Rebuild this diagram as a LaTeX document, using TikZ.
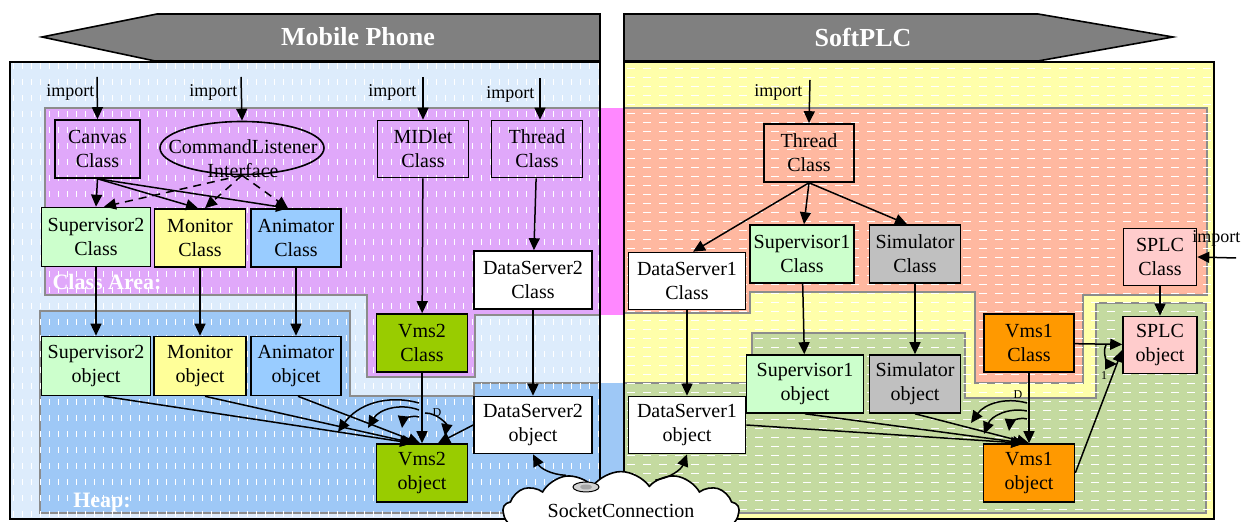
\documentclass[tikz,border=0pt]{standalone}
\usepackage{fontspec}
\setmainfont{Liberation Serif}
\usetikzlibrary{arrows.meta,shapes.geometric,shapes.symbols,patterns}

\definecolor{phoneback}{RGB}{221,236,252}
\definecolor{phoneclass}{RGB}{224,168,250}
\definecolor{phoneheap}{RGB}{158,200,246}
\definecolor{plcback}{RGB}{255,255,170}
\definecolor{plcclass}{RGB}{255,184,160}
\definecolor{plcheap}{RGB}{196,218,160}
\definecolor{gapclass}{RGB}{255,136,255}
\definecolor{bannergray}{RGB}{128,128,128}
\definecolor{supgreen}{RGB}{204,255,204}
\definecolor{monyellow}{RGB}{255,255,153}
\definecolor{animblue}{RGB}{153,204,255}
\definecolor{vmsgreen}{RGB}{153,204,0}
\definecolor{vmsorange}{RGB}{255,153,0}
\definecolor{simgray}{RGB}{192,192,192}
\definecolor{splcpink}{RGB}{255,204,204}

\pgfdeclarepatternformonly{vdashes}{\pgfqpoint{-1pt}{-1pt}}{\pgfqpoint{5.5pt}{9pt}}{\pgfqpoint{4.5pt}{8pt}}{%
  \pgfsetlinewidth{0.4pt}%
  \pgfpathmoveto{\pgfqpoint{2pt}{2.5pt}}%
  \pgfpathlineto{\pgfqpoint{2pt}{5.5pt}}%
  \pgfusepath{stroke}}
\pgfdeclarepatternformonly{hdashes}{\pgfqpoint{-1pt}{-1pt}}{\pgfqpoint{9pt}{5.5pt}}{\pgfqpoint{8pt}{4.5pt}}{%
  \pgfsetlinewidth{0.4pt}%
  \pgfpathmoveto{\pgfqpoint{1.5pt}{2pt}}%
  \pgfpathlineto{\pgfqpoint{5.5pt}{2pt}}%
  \pgfusepath{stroke}}

\begin{document}
\begin{tikzpicture}[x=0.5pt, y=-0.5pt, line width=0.75pt,
    >={Triangle[length=6pt,width=5.5pt]},
    box/.style={draw, line width=0.8pt, inner sep=0pt, align=center, font=\fontsize{10}{12}\selectfont},
    sz/.style 2 args={minimum width=#1*0.5pt, minimum height=#2*0.5pt},
    imp/.style={font=\fontsize{9}{10}\selectfont, inner sep=0pt},
    area/.style={draw=black!45, line width=0.6pt},
    banner/.style={fill=bannergray, draw=black, line width=0.8pt},
    title/.style={text=white, font=\fontsize{13}{15}\selectfont\bfseries},
    arealabel/.style={text=white, font=\fontsize{11}{13}\selectfont\bfseries},
    tag/.style={font=\fontsize{6}{6}\selectfont, inner sep=0pt},
    uses/.style={->, dash pattern=on 4pt off 3pt}]
    \useasboundingbox (0,0) rectangle (1242,522);

    % panels and memory areas
    \fill[phoneback] (10,62) rectangle (600,519);
    \fill[plcback] (624,62) rectangle (1214,519);
    \fill[gapclass] (600,108) rectangle (624,315);
    \fill[phoneheap] (600,383) rectangle (624,519);
    \filldraw[area, fill=phoneclass] (45,108) -- (600,108) -- (600,315) -- (475,315) -- (475,377) -- (367,377) -- (367,295) -- (45,295) -- cycle;
    \filldraw[area, fill=phoneheap] (40,311) -- (350,311) -- (350,396) -- (474,396) -- (474,383) -- (600,383) -- (600,513) -- (40,513) -- cycle;
    \filldraw[area, fill=plcclass] (624,108) -- (1207,108) -- (1207,295) -- (1083,295) -- (1083,383) -- (975,383) -- (975,292) -- (750,292) -- (750,313) -- (624,313) -- cycle;
    \filldraw[area, fill=plcheap] (624,383) -- (752,383) -- (752,333) -- (965,333) -- (965,398) -- (1096,398) -- (1096,303) -- (1206,303) -- (1206,513) -- (624,513) -- cycle;
    \fill[pattern=vdashes, pattern color=white, fill opacity=0.45] (10,62) rectangle (600,519);
    \fill[pattern=hdashes, pattern color=white, fill opacity=0.45] (624,62) rectangle (1214,519);
    \draw[line width=1pt] (10,62) rectangle (600,519);
    \draw[line width=1pt] (624,62) rectangle (1214,519);

    \filldraw[banner] (42,37) -- (157,14) -- (600,14) -- (600,61) -- (155,61) -- cycle;
    \node (phone) [title] at (358,37) {Mobile Phone};
    \filldraw[banner] (624,14) -- (1038,14) -- (1173,37) -- (1038,61) -- (624,61) -- cycle;
    \node (softplc) [title] at (863,37) {SoftPLC};

    \node (classarea) [arealabel] at (107,282) {Class Area:};
    \node (heap) [arealabel] at (102,503) {Heap:};

    % mobile phone side
    \node (canvas) [box, sz={85}{58}] at (97.5,149) {Canvas\\Class};
    \node (iface) [draw, ellipse, line width=0.8pt, minimum width=82pt, minimum height=26.5pt] at (242,148) {};
    \node (ifacetext) [box, draw=none] at (243,159) {CommandListener\\Interface};
    \node (midlet) [box, sz={91}{57}] at (423,149) {MIDlet\\Class};
    \node (thread2) [box, sz={91}{57}] at (537,149) {Thread\\Class};
    \node (sup2c) [box, sz={109}{59}, fill=supgreen] at (96,237) {Supervisor2\\Class};
    \node (monc) [box, sz={91}{58}, fill=monyellow] at (200,238) {Monitor\\Class};
    \node (animc) [box, sz={90}{58}, fill=animblue] at (296,238) {Animator\\Class};
    \node (ds2c) [box, sz={118}{58}, fill=white] at (533,280) {DataServer2\\Class} edge [<-] (thread2);
    \node (vms2c) [box, sz={91}{58}, fill=vmsgreen] at (422,343) {Vms2\\Class} edge [<-] (midlet);
    \node (sup2o) [box, sz={109}{59}, fill=supgreen] at (96,366) {Supervisor2\\object} edge [<-] (sup2c);
    \node (mono) [box, sz={92}{59}, fill=monyellow] at (200,366) {Monitor\\object} edge [<-] (monc);
    \node (animo) [box, sz={90}{59}, fill=animblue] at (296,366) {Animator\\objcet} edge [<-] (animc);
    \node (ds2o) [box, sz={118}{57}, fill=white] at (533,425) {DataServer2\\object} edge [<-] (ds2c);
    \node (vms2o) [box, sz={91}{58}, fill=vmsgreen] at (422,473) {Vms2\\object} edge [<-] (vms2c);

    \coordinate (incanvas) at (97,77);
    \coordinate (iniface) at (241,77);
    \coordinate (inmidlet) at (423,77);
    \coordinate (inthread2) at (540,78);
    \node (impcanvas) [imp, anchor=east] at (95,92) {import};
    \node (impiface) [imp, anchor=east] at (238,92) {import};
    \node (impmidlet) [imp, anchor=east] at (417,92) {import};
    \node (impthread2) [imp, anchor=east] at (535,94) {import};
    \draw[->] (incanvas) -- (canvas.north);
    \draw[->] (iniface) -- (iface.north);
    \draw[->] (inmidlet) -- (midlet.north);
    \draw[->] (inthread2) -- ([xshift=1.5pt]thread2.north);

    \draw[->] (canvas.south) -- (sup2c.north);
    \draw[->] (canvas.south) -- ([xshift=-1pt]monc.north);
    \draw[->] (canvas.south) -- ([xshift=-4pt]animc.north);
    \draw[uses] (iface.south) -- ([xshift=4pt]sup2c.north);
    \draw[uses] (iface.south) -- ([xshift=2.5pt]monc.north);
    \draw[uses] (iface.south) -- ([xshift=-4pt]animc.north);

    \draw[->] ([xshift=4pt]sup2o.south) -- ([xshift=-5pt]vms2o.north);
    \draw[->] ([xshift=2.5pt]mono.south) -- ([xshift=-4pt]vms2o.north);
    \draw[->] ([xshift=1pt]animo.south) -- ([xshift=-1pt]vms2o.north);
    \draw[->] (ds2o.west) -- ([xshift=8pt]vms2o.north);

    \coordinate (vl1) at (419,403);
    \coordinate (vl2) at (419,410);
    \coordinate (vl3) at (419,417);
    \coordinate (vr1) at (425,413);
    \coordinate (tl1) at (338,432);
    \coordinate (tl2) at (368,428);
    \coordinate (tl3) at (402,428);
    \coordinate (tr1) at (445,436);
    \draw[->] (vl1) to[bend right=35] (tl1);
    \draw[->] (vl2) to[bend right=40] (tl2);
    \draw[->] (vl3) to[bend right=50] (tl3);
    \draw[->] (vr1) to[bend left=50] (tr1);
    \node (tagvms2) [tag] at (437,413) {D};

    % softplc side
    \node (thread1) [box, sz={90}{58}] at (809,153) {Thread\\Class};
    \node (ds1c) [box, sz={117}{57}, fill=white] at (687,281) {DataServer1\\Class};
    \node (sup1c) [box, sz={104}{58}, fill=supgreen] at (802,254) {Supervisor1\\Class};
    \node (simc) [box, sz={91}{58}, fill=simgray] at (915,254) {Simulator\\Class};
    \node (splcc) [box, sz={73}{57}, fill=splcpink] at (1160,257) {SPLC\\Class};
    \node (vms1c) [box, sz={90}{58}, fill=vmsorange] at (1029,343) {Vms1\\Class};
    \node (splco) [box, sz={74}{57}, fill=splcpink] at (1160,345) {SPLC\\object} edge [<-] (splcc) edge [<-] (vms1c);
    \node (sup1o) [box, sz={117}{58}, fill=supgreen] at (805,384) {Supervisor1\\object} edge [<-] (sup1c);
    \node (simo) [box, sz={91}{58}, fill=simgray] at (915,384) {Simulator\\object} edge [<-] (simc);
    \node (ds1o) [box, sz={117}{57}, fill=white] at (687,425) {DataServer1\\object} edge [<-] (ds1c);
    \node (vms1o) [box, sz={91}{58}, fill=vmsorange] at (1029,473) {Vms1\\object} edge [<-] (vms1c);

    \coordinate (inthread1) at (810,80);
    \coordinate (insplc) at (1236,258);
    \node (impthread1) [imp, anchor=east] at (803,92) {import};
    \node (impsplc) [imp, anchor=east] at (1241,238) {import};
    \draw[->] (inthread1) -- (thread1.north);
    \draw[->] (insplc) -- (splcc.east);

    \draw[->] (thread1.south) -- ([xshift=3pt]ds1c.north);
    \draw[->] (thread1.south) -- ([xshift=1pt]sup1c.north);
    \draw[->] (thread1.south) -- ([xshift=-4pt]simc.north);

    \draw[->] (ds1o.east) -- ([xshift=-3pt]vms1o.north);
    \draw[->] (sup1o.south) -- ([xshift=-2pt]vms1o.north);
    \draw[->] (simo.south) -- (vms1o.north);
    \draw[->] (vms1o.east) -- ([yshift=-2.5pt]splco.west);

    \coordinate (wl1) at (1027,403);
    \coordinate (wl2) at (1027,411);
    \coordinate (wl3) at (1027,419);
    \coordinate (ul1) at (971,423);
    \coordinate (ul2) at (984,434);
    \coordinate (ul3) at (1009,431);
    \draw[->] (wl1) to[bend right=35] (ul1);
    \draw[->] (wl2) to[bend right=40] (ul2);
    \draw[->] (wl3) to[bend right=50] (ul3);
    \node (tagvms1) [tag] at (1018,395) {D};

    \coordinate (ka) at (1106,345);
    \coordinate (kb) at (1117,364);
    \draw[->] (ka) to[bend right=60] (kb);
    \node (tagsplc) [tag] at (1104,376) {1};

    % socket between both sides
    \node (sock) [cloud, draw, fill=white, line width=0.8pt, cloud puffs=13, cloud puff arc=110, aspect=3.8,
        minimum width=118pt, minimum height=31pt, inner sep=0pt, font=\fontsize{10}{12}\selectfont] at (621,511) {SocketConnection};
    \filldraw[fill=gray!35, line width=0.5pt] (586,487) ellipse [x radius=13, y radius=5];
    \fill[gray!70] (586,487) ellipse [x radius=6, y radius=2.5];
    \draw[->] (sock.147) to[bend left=30] (ds2o.south);
    \draw[->] (sock.42) to[bend right=30] (ds1o.south);
\end{tikzpicture}
\end{document}
